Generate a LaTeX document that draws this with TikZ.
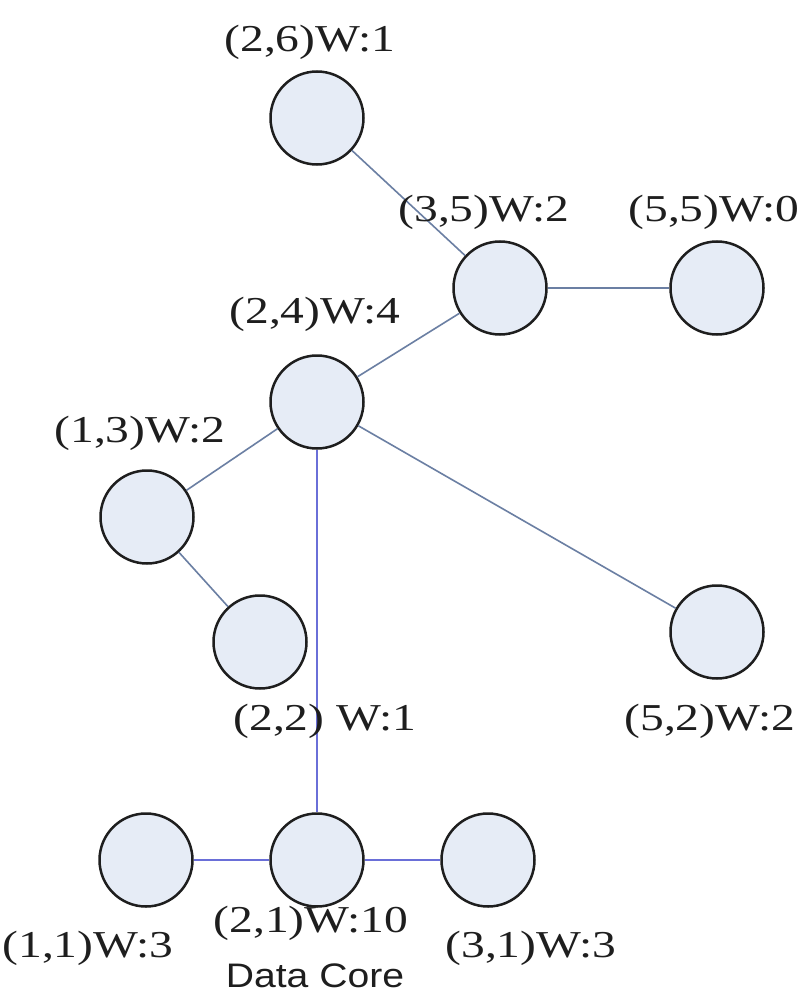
\documentclass[tikz,border=0pt]{standalone}
\usepackage{fontspec}
\newfontfamily\lblfont[FakeStretch=1.25]{Liberation Serif}
\newfontfamily\corefont[FakeStretch=1.15]{Liberation Sans}
\definecolor{nodefill}{HTML}{E6ECF6}
\definecolor{nodeline}{HTML}{1E1E1E}
\definecolor{edgegray}{HTML}{6B7FA3}
\definecolor{edgeblue}{HTML}{6A6FD8}
\definecolor{txt}{HTML}{1E1E1E}
\tikzset{
  cell/.style={circle, draw=nodeline, fill=nodefill, line width=2.5pt, minimum size=93pt, inner sep=0pt},
  lbl/.style={anchor=base, inner sep=0pt, text=txt, font=\lblfont\fontsize{38}{44}\selectfont},
  corelbl/.style={anchor=base, inner sep=0pt, text=txt, font=\corefont\fontsize{34}{40}\selectfont},
  link/.style={draw=edgegray, line width=1.6pt},
  bluelink/.style={draw=edgeblue, line width=1.8pt}
}
\begin{document}
\begin{tikzpicture}[x=1pt, y=-1pt]
\useasboundingbox[fill=white] (0,0) rectangle (803,1000);
% nodes
\node[cell] (n26) at (317,118) {};
\node[cell] (n35) at (500,288) {};
\node[cell] (n55) at (717,288) {};
\node[cell] (n24) at (317,402) {};
\node[cell] (n13) at (147,517) {};
\node[cell] (n22) at (260,642) {};
\node[cell] (n52) at (717,632) {};
\node[cell] (n11) at (146,860) {};
\node[cell] (n21) at (317,860) {};
\node[cell] (n31) at (488,860) {};
% edges
\draw[link] (n26) -- (n35);
\draw[link] (n35) -- (n55);
\draw[link] (n35) -- (n24);
\draw[link] (n24) -- (n13);
\draw[link] (n13) -- (n22);
\draw[link] (n24) -- (n52);
\draw[bluelink] (n24) -- (n21);
\draw[bluelink] (n11) -- (n21);
\draw[bluelink] (n21) -- (n31);
% labels
\node[lbl] (l26) at (310,52) {(2,6)W:1};
\node[lbl] (l35) at (484,222) {(3,5)W:2};
\node[lbl] (l55) at (714,222) {(5,5)W:0};
\node[lbl] (l24) at (315,323) {(2,4)W:4};
\node[lbl] (l13) at (140,442) {(1,3)W:2};
\node[lbl] (l22) at (325,730) {(2,2) W:1};
\node[lbl] (l52) at (710,730) {(5,2)W:2};
\node[lbl] (l11) at (88,957) {(1,1)W:3};
\node[lbl] (l21) at (311,932) {(2,1)W:10};
\node[lbl] (l31) at (531,957) {(3,1)W:3};
\node[corelbl] (core) at (315,987) {Data Core};
\end{tikzpicture}
\end{document}
